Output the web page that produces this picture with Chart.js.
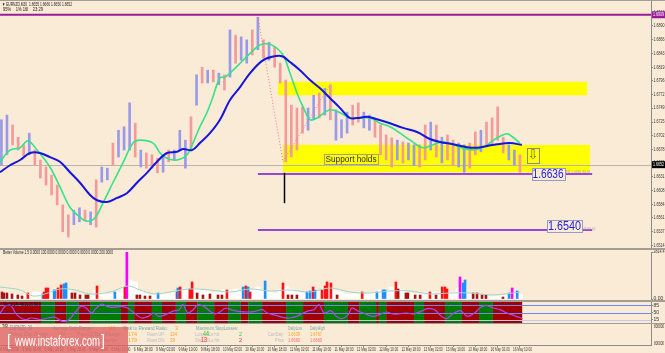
<!DOCTYPE html>
<html>
<head>
<meta charset="utf-8">
<title>EURNZD M30</title>
<script src="https://cdn.jsdelivr.net/npm/chart.js@4.4.1/dist/chart.umd.min.js"></script>
<style>
  html, body { margin: 0; padding: 0; }
  body { width: 665px; height: 353px; overflow: hidden; position: relative; background: #faebd7; font-family: "Liberation Sans", Arial, sans-serif; }
  canvas { position: absolute; left: 0; }
  .t { position: absolute; white-space: nowrap; line-height: 1; transform-origin: 0 0; }
  .sep { position: absolute; left: 0; width: 665px; background: #a39d95; }
  #wm { position: absolute; left: 0; top: 327px; width: 128px; height: 26px; background: rgba(223, 100, 100, 0.8); }
</style>
</head>
<body>
<canvas id="priceChart" width="665" height="249" style="top:0"></canvas>
<canvas id="volumeChart" width="665" height="51" style="top:250px"></canvas>
<canvas id="oscChart" width="665" height="21" style="top:302px"></canvas>
<canvas id="timeChart" width="665" height="29" style="top:324px"></canvas>
<div class="sep" style="top:0;height:1px"></div>
<div class="sep" style="top:248px;height:2px"></div>
<div class="sep" style="top:300px;height:2px"></div>
<div class="sep" style="top:323px;height:1px"></div>

<!-- header -->
<div class="t" style="left:2px;top:2px;font-size:5px;color:#222" data-w="70">▼ EURNZD,M30&nbsp; 1.6655 1.6666 1.6650 1.6652</div>
<div class="t" style="left:3px;top:7px;font-size:5px;color:#222" data-w="40">95%&nbsp;&nbsp;&nbsp; 1% 16l&nbsp;&nbsp;&nbsp; 23:29</div>
<div class="t" style="left:3px;top:251px;font-size:4.5px;color:#222" data-w="110">Better Volume 1.5 0.0000 100.0000 0.0000 0.0000 0.0000 0.0000 200.0000</div>
<div class="t" style="left:3px;top:303px;font-size:4.5px;color:#111" data-w="38">Trend(14) 48.2135 50.0</div>

<!-- info panel -->
<div class="t" style="left:2px;top:325px;font-size:4.5px;color:#222" data-w="6">T/R</div>
<div class="t" style="left:10px;top:324px;font-size:8px;color:#3d8fc0" data-w="22">EURNZD_30</div>
<div class="t" style="left:53px;top:325px;font-size:6px;color:#79a9a2" data-w="39">Average Daily Range:</div>
<div class="t" style="left:108px;top:325px;font-size:6px;color:#ff9f1c" data-w="7">146</div>
<div class="t" style="left:123px;top:325px;font-size:6px;color:#79a9a2" data-w="45">Risk to Reward Ratio:</div>
<div class="t" style="left:175px;top:325px;font-size:6px;color:#ff9f1c" data-w="3">3</div>
<div class="t" style="left:196px;top:325px;font-size:6px;color:#79a9a2" data-w="42">Maximum StopLosses:</div>
<div class="t" style="left:288px;top:325px;font-size:6px;color:#79a9a2" data-w="14">DailyLow</div>
<div class="t" style="left:310px;top:325px;font-size:6px;color:#79a9a2" data-w="15">DailyHigh</div>

<div class="t" style="left:10px;top:331px;font-size:6px;color:#9aaaaa" data-w="38">Prev1 Day Range</div>
<div class="t" style="left:59px;top:331px;font-size:6px;color:#ff9f1c" data-w="6">90</div>
<div class="t" style="left:77px;top:331px;font-size:6px;color:#9aaaaa" data-w="43">Prev10 Day Range</div>
<div class="t" style="left:128px;top:331px;font-size:6px;color:#ff9f1c" data-w="9">174</div>
<div class="t" style="left:147px;top:331px;font-size:6px;color:#b4bcbc" data-w="18">Room UP:</div>
<div class="t" style="left:170px;top:331px;font-size:6px;color:#ff9f1c" data-w="7">134</div>
<div class="t" style="left:195px;top:331px;font-size:6px;color:#b4bcbc" data-w="25">Long SLs hit:</div>
<div class="t" style="left:203px;top:330px;font-size:7px;color:#33cc33" data-w="6">44</div>
<div class="t" style="left:239px;top:331px;font-size:6px;color:#33cc33" data-w="3">2</div>
<div class="t" style="left:268px;top:331px;font-size:6px;color:#b4bcbc" data-w="15">CurrDay</div>
<div class="t" style="left:288px;top:331px;font-size:6px;color:#ff9f1c" data-w="12">1.6639</div>
<div class="t" style="left:310px;top:331px;font-size:6px;color:#ff9f1c" data-w="12">1.6767</div>

<div class="t" style="left:77px;top:337px;font-size:6px;color:#9aaaaa" data-w="40">Prev5 Day Range</div>
<div class="t" style="left:128px;top:337px;font-size:6px;color:#ff9f1c" data-w="9">179</div>
<div class="t" style="left:147px;top:337px;font-size:6px;color:#b4bcbc" data-w="18">Room DN:</div>
<div class="t" style="left:170px;top:337px;font-size:6px;color:#ff9f1c" data-w="5">39</div>
<div class="t" style="left:195px;top:337px;font-size:6px;color:#b4bcbc" data-w="25">Short SLs hit:</div>
<div class="t" style="left:201px;top:336px;font-size:7px;color:#ff2020" data-w="6">13</div>
<div class="t" style="left:239px;top:337px;font-size:6px;color:#ff2020" data-w="3">2</div>
<div class="t" style="left:275px;top:337px;font-size:6px;color:#b4bcbc" data-w="9">Price</div>
<div class="t" style="left:288px;top:337px;font-size:6px;color:#ff6a6a" data-w="12">1.6660</div>
<div class="t" style="left:310px;top:337px;font-size:6px;color:#ff6a6a" data-w="12">1.6660</div>

<div class="t" style="left:654px;top:325px;font-size:4.5px;color:#333" data-w="10">800000</div>
<div class="t" style="left:654px;top:342px;font-size:4.5px;color:#333" data-w="10">800000</div>

<div id="wm">
  <div class="t" style="left:7px;top:5px;font-size:17px;color:#fff" data-w="4">[</div>
  <div class="t" style="left:15px;top:7px;font-size:14.5px;color:#fff" data-w="85">www.instaforex.com</div>
  <div class="t" style="left:101px;top:5px;font-size:17px;color:#fff" data-w="4">]</div>
</div>

<script>
// ---- time axis: trading hours since 4 May 18:00 ----
const xMin = -2.5;
const xMax = 231.0;
const timeTicks = [0, 8, 16, 24, 32, 40, 48, 56, 64, 72, 80, 88, 96, 104, 112, 120, 128, 136, 144, 152, 160, 168, 176, 184];
const timeLabels = ['4 May 2016', '5 May 02:00', '5 May 10:00', '5 May 18:00', '6 May 02:00', '6 May 10:00',
  '6 May 18:00', '9 May 02:00', '9 May 10:00', '9 May 18:00', '10 May 02:00', '10 May 10:00',
  '10 May 18:00', '11 May 02:00', '11 May 10:00', '11 May 18:00', '12 May 02:00', '12 May 10:00',
  '12 May 18:00', '13 May 02:00', '13 May 10:00', '13 May 18:00', '16 May 02:00', '16 May 10:00'];

// ---- price bars (2 hour steps) ----
const barTimes = [-2, 0, 2, 4, 6, 8, 10, 12, 14, 16, 18, 20, 22, 24, 26, 28, 30, 32, 34, 36, 38, 40, 42, 44,
  46, 48, 50, 52, 54, 56, 58, 60, 62, 64, 66, 68, 70, 72, 74, 76, 78, 80, 82, 84, 86, 88, 90, 92, 94, 96,
  98, 100, 102, 104, 106, 108, 110, 112, 114, 116, 118, 120, 122, 124, 126, 128, 130, 132, 134, 136, 138,
  140, 142, 144, 146, 148, 150, 152, 154, 156, 158, 160, 162, 164, 166, 168, 170, 172, 174, 176, 178, 180, 182, 184];
const barHigh = [1.6729, 1.6737, 1.6720, 1.6699, 1.6686, 1.6706, 1.6677, 1.6660, 1.6648, 1.6634,
  1.6617, 1.6583, 1.6566, 1.6574, 1.6578, 1.6574, 1.6571, 1.6626, 1.6648, 1.6646,
  1.6689, 1.6711, 1.6717, 1.6758, 1.6723, 1.6677, 1.6672, 1.6669, 1.6663, 1.6665,
  1.6677, 1.6677, 1.6711, 1.6694, 1.6734, 1.6806, 1.6819, 1.6814, 1.6814, 1.6809,
  1.6806, 1.6883, 1.6874, 1.6871, 1.6866, 1.6883, 1.6905, 1.6866, 1.6862, 1.6854,
  1.6826, 1.6797, 1.6754, 1.6749, 1.6751, 1.6749, 1.6771, 1.6775, 1.6783, 1.6789,
  1.6746, 1.6729, 1.6742, 1.6754, 1.6758, 1.6742, 1.6737, 1.6732, 1.6720, 1.6703,
  1.6698, 1.6694, 1.6691, 1.6689, 1.6686, 1.6686, 1.6720, 1.6725, 1.6720, 1.6699,
  1.6703, 1.6694, 1.6689, 1.6686, 1.6689, 1.6708, 1.6711, 1.6725, 1.6732, 1.6751,
  1.6699, 1.6686, 1.6677, 1.6669];
const barLow = [1.6651, 1.6669, 1.6686, 1.6677, 1.6667, 1.6669, 1.6651, 1.6629, 1.6617, 1.6600,
  1.6583, 1.6537, 1.6528, 1.6549, 1.6554, 1.6557, 1.6549, 1.6545, 1.6622, 1.6626,
  1.6651, 1.6665, 1.6677, 1.6677, 1.6665, 1.6648, 1.6646, 1.6646, 1.6638, 1.6639,
  1.6657, 1.6660, 1.6677, 1.6646, 1.6677, 1.6754, 1.6792, 1.6792, 1.6794, 1.6789,
  1.6780, 1.6802, 1.6826, 1.6831, 1.6826, 1.6840, 1.6849, 1.6835, 1.6831, 1.6819,
  1.6792, 1.6657, 1.6665, 1.6677, 1.6706, 1.6711, 1.6729, 1.6732, 1.6737, 1.6729,
  1.6694, 1.6698, 1.6706, 1.6720, 1.6725, 1.6715, 1.6711, 1.6699, 1.6669, 1.6660,
  1.6648, 1.6660, 1.6655, 1.6660, 1.6651, 1.6648, 1.6660, 1.6677, 1.6665, 1.6655,
  1.6660, 1.6651, 1.6648, 1.6639, 1.6646, 1.6669, 1.6674, 1.6682, 1.6686, 1.6694,
  1.6672, 1.6660, 1.6651, 1.6639];
const barDir = ('uuddduddddddduududuudu' + 'uududdduduuududududud' + 'uudududddddduududuuuddu' +
  'udddduduuddududduuddudddduuduuudddd').split('');

// ---- moving averages ----
const fastMaX = [-2.5, 1.1, 4.7, 7.5, 10.8, 15.4, 19.0, 22.6, 26.2, 28.7, 31.6, 34.4, 38.0, 41.6, 45.2, 47.7,
  52.4, 54.9, 57.4, 61.0, 64.6, 66.7, 69.2, 71.7, 73.5, 76.4, 78.2, 81.1, 84.7, 89.7, 91.8, 95.1, 99.0,
  101.5, 104.0, 106.2, 108.7, 111.2, 115.9, 119.5, 123.0, 130.2, 133.8, 137.4, 141.0, 144.6, 149.2,
  152.8, 156.4, 162.5, 167.2, 170.8, 175.8, 179.4, 181.5, 184.0];
const fastMaY = [1.6657, 1.6677, 1.6681, 1.6693, 1.6677, 1.6648, 1.6614, 1.6579, 1.6562, 1.6555, 1.6561,
  1.6586, 1.6621, 1.6655, 1.6689, 1.6694, 1.6689, 1.6672, 1.6663, 1.6660, 1.6669, 1.6689, 1.6717, 1.6741,
  1.6763, 1.6801, 1.6802, 1.6814, 1.6831, 1.6854, 1.6859, 1.6857, 1.6840, 1.6809, 1.6775, 1.6751, 1.6729,
  1.6732, 1.6746, 1.6741, 1.6732, 1.6732, 1.6723, 1.6717, 1.6706, 1.6694, 1.6681, 1.6686, 1.6691, 1.6682,
  1.6677, 1.6682, 1.6698, 1.6705, 1.6699, 1.6689];
const slowMaX = [-2.5, 1.1, 4.7, 8.3, 11.8, 15.4, 19.0, 22.6, 26.2, 29.8, 32.3, 35.9, 39.5, 43.0, 46.6, 50.2,
  53.8, 57.4, 61.0, 63.1, 66.4, 69.2, 72.8, 76.4, 80.0, 83.6, 87.2, 91.5, 95.1, 98.7, 101.5, 105.1, 108.7,
  112.3, 115.9, 119.5, 123.0, 125.6, 129.2, 132.7, 137.4, 142.1, 147.1, 151.7, 155.3, 160.0, 165.0, 168.6,
  172.2, 175.8, 180.4, 184.7];
const slowMaY = [1.6639, 1.6651, 1.6660, 1.6672, 1.6672, 1.6665, 1.6657, 1.6639, 1.6621, 1.6600, 1.6591,
  1.6588, 1.6595, 1.6603, 1.6621, 1.6638, 1.6657, 1.6672, 1.6674, 1.6679, 1.6677, 1.6689, 1.6706, 1.6729,
  1.6763, 1.6785, 1.6809, 1.6830, 1.6837, 1.6838, 1.6828, 1.6814, 1.6797, 1.6783, 1.6766, 1.6749, 1.6732,
  1.6732, 1.6734, 1.6730, 1.6723, 1.6715, 1.6708, 1.6696, 1.6691, 1.6687, 1.6682, 1.6681, 1.6684, 1.6687,
  1.6689, 1.6686];

// ---- drawings on the price chart ----
const zoneStart = [97.2, 99.0];
const zoneEnd = [208.1, 209.1];
const zoneHigh = [1.6794, 1.6686];
const zoneLow = [1.6771, 1.6639];
const levelPrice = [1.6909, 1.6636, 1.6540];
const levelStart = [-2.5, 90.0, 90.0];
const levelEnd = [231.0, 209.9, 209.9];
const zigzagX = [90.0, 99.0, 115.9];
const zigzagY = [1.6905, 1.6657, 1.6789];
const bidPrice = 1.6652;
const markerTime = 99.4;
const markerFrom = 1.6638;
const markerTo = 1.6586;
const noteTime = 123.4;
const notePrice = 1.6662;
const noteText = 'Support holds';
const targetTimes = [194.1, 200.0];
const targetPrices = [1.6636, 1.6546];
const targetTexts = ['1.6636', '1.6540'];
const arrowTime = 188.7;
const arrowPrice = 1.6668;
const priceMin = 1.65091;
const priceMax = 1.69326;
const priceTicks = [1.6913, 1.6890, 1.6866, 1.6843, 1.6819, 1.6796, 1.6772, 1.6749, 1.6725,
  1.6702, 1.6678, 1.6655, 1.6631, 1.6608, 1.6584, 1.6561, 1.6537, 1.6514];

// ---- volume ----
const volMax = 2814.4;
const plainVolume = [360, 360, 300, 240, 240, 300, 420, 420, 480, 540, 600, 660, 600, 360, 300, 240, 240,
  540, 360, 300, 300, 420, 780, 1140, 1020, 480, 300, 240, 240, 300, 300, 420, 540, 600, 660, 600, 540,
  480, 360, 420, 540, 480, 600, 540, 660, 600, 720, 540, 420, 360, 540, 780, 600, 420, 360, 420, 540, 480,
  660, 720, 480, 420, 300, 300, 300, 300, 360, 420, 540, 480, 720, 840, 540, 360, 300, 300, 360, 420, 360,
  480, 360, 420, 660, 780, 360, 300, 240, 180, 180, 180, 240, 300, 360, 300];
const volTimes = [-1.8, -1.1, 0, 1.8, 3.9, 5.4, 7.5, 12.9, 13.3, 14.0, 14.7, 16.9, 17.2, 18.3, 19.4, 20.4,
  21.2, 23.3, 24.4, 26.2, 28.3, 29.1, 32.3, 38.7, 42.3, 43.0, 46.6, 47.7, 49.5, 51.3, 54.2, 61.0, 61.3,
  62.1, 65.6, 66.4, 68.2, 70.3, 72.8, 75.7, 77.1, 78.9, 84.7, 85.7, 86.5, 87.2, 92.6, 99.0, 100.8, 102.2,
  104.0, 107.6, 108.7, 109.8, 110.5, 113.0, 114.1, 114.8, 116.2, 118.4, 127.4, 132.7, 134.9, 135.6, 139.5,
  140.3, 143.1, 143.8, 146.4, 148.2, 151.7, 153.9, 156.1, 157.1, 157.8, 162.5, 163.6, 164.3, 167.2, 168.6,
  170.4, 171.8, 177.9, 180.1, 181.2, 183.0];
const volValues = [420, 360, 360, 300, 240, 180, 360, 300, 420, 660, 660, 540, 540, 660, 840, 900, 960,
  360, 360, 240, 240, 240, 780, 420, 720, 2814, 240, 240, 180, 180, 360, 420, 660, 720, 600, 1020, 360,
  240, 300, 240, 240, 540, 720, 780, 720, 420, 1080, 960, 240, 240, 240, 420, 480, 720, 540, 540, 780,
  1020, 960, 240, 420, 420, 540, 540, 1020, 600, 360, 360, 240, 240, 420, 240, 720, 720, 600, 1320, 960,
  1140, 360, 360, 240, 240, 120, 360, 660, 480];
const volKinds = ['k', 'k', 'k', 'k', 'k', 'k', 'r', 'b', 'r', 'r', 'r', 'b', 'b', 'r', 'r', 'b', 'b',
  'k', 'k', 'k', 'k', 'k', 'r', 'b', 'r', 'm', 'k', 'k', 'k', 'k', 'b', 'r', 'b', 'r', 'r', 'r', 'k',
  'k', 'k', 'k', 'k', 'r', 'b', 'r', 'b', 'r', 'b', 'r', 'k', 'k', 'k', 'b', 'b', 'r', 'b', 'r', 'r',
  'r', 'r', 'k', 'r', 'b', 'b', 'b', 'r', 'k', 'k', 'k', 'k', 'k', 'r', 'k', 'r', 'r', 'r', 'm', 'b',
  'b', 'k', 'k', 'k', 'k', 'k', 'b', 'm', 'b'];
const volAvgX = [-2.5, 4.7, 9.3, 13.6, 19.0, 24.4, 29.8, 37.0, 43.4, 47.7, 53.1, 58.5, 65.6, 72.8, 80.0,
  87.2, 94.3, 101.5, 108.7, 115.9, 123.0, 130.2, 137.4, 144.6, 151.7, 158.9, 166.1, 173.3, 178.7, 184.0];
const volAvgY = [720, 540, 180, 300, 600, 540, 300, 420, 780, 540, 300, 420, 600, 540, 420, 600, 480,
  540, 420, 660, 420, 360, 480, 480, 300, 360, 360, 240, 300, 420];

// ---- oscillator ----
const oscX = [-2.5, -0.6, 1.2, 3.0, 4.9, 6.8, 8.6, 10.5, 12.3, 14.8, 17.3, 19.8, 22.2, 24.7, 26.6, 28.4,
  30.3, 32.1, 34.0, 35.8, 38.3, 40.8, 43.3, 45.7, 48.2, 50.7, 52.5, 54.4, 56.9, 59.3, 61.8, 63.1, 64.9,
  66.8, 68.6, 70.5, 72.9, 74.8, 76.7, 78.5, 80.4, 82.8, 86.6, 89.0, 91.5, 93.4, 96.5, 98.9, 101.4, 103.9,
  106.3, 108.2, 110.1, 111.9, 113.8, 116.2, 118.1, 120.0, 122.4, 123.7, 126.1, 128.6, 131.1, 133.6, 136.0,
  138.5, 141.0, 143.5, 145.9, 148.4, 150.9, 153.4, 155.8, 157.7, 159.5, 162.6, 165.1, 167.6, 170.0, 171.9,
  174.4, 176.9, 179.3, 181.8, 184.9];
const oscY = [47.6, 79.4, 87.3, 47.6, 23.8, 15.9, 23.8, 20.6, 15.9, 23.8, 27.0, 7.9, 15.9, 55.6, 79.4,
  71.4, 47.6, 71.4, 90.5, 79.4, 74.6, 79.4, 71.4, 47.6, 23.8, 31.7, 47.6, 31.7, 39.7, 55.6, 63.5, 87.3,
  47.6, 63.5, 87.3, 79.4, 55.6, 42.9, 55.6, 71.4, 63.5, 55.6, 52.4, 55.6, 63.5, 47.6, 36.5, 27.0, 23.8,
  31.7, 47.6, 58.7, 63.5, 87.3, 47.6, 58.7, 31.7, 20.6, 39.7, 71.4, 55.6, 42.9, 31.7, 39.7, 52.4, 42.9,
  44.4, 47.6, 42.9, 55.6, 68.3, 63.5, 31.7, 20.6, 39.7, 58.7, 31.7, 47.6, 74.6, 84.1, 71.4, 63.5, 47.6,
  36.5, 20.6];
const oscLevels = [85, 50, 15];
const stripeEdges = [-2.5, 12.2, 17.2, 21.2, 25.8, 29.8, 40.9, 43.4, 45.6, 52.0, 55.6, 60.6, 64.2, 68.2,
  74.3, 79.3, 83.9, 86.5, 91.5, 100.1, 106.2, 113.7, 122.3, 126.3, 132.4, 133.4, 136.0, 146.0, 149.6,
  157.1, 163.2, 169.3, 174.3, 184.8];
const stripeKinds = ['r', 'g', 'r', 'g', 'r', 'g', 'r', 'g', 'r', 'g', 'r', 'g', 'r', 'g', 'r', 'g', 'r',
  'g', 'r', 'g', 'r', 'g', 'r', 'g', 'r', 'g', 'r', 'g', 'r', 'g', 'r', 'g', 'r'];

// ---------------------------------------------------------------
Chart.defaults.font.family = '"Liberation Sans", Arial, sans-serif';
const FONT = '"Liberation Sans", Arial, sans-serif';
const VOL_COLORS = { k: '#a31414', r: '#ff1212', b: '#1e8fff', m: '#ff00ff' };

// fit the html labels to the squeezed widths of the screenshot
document.querySelectorAll('[data-w]').forEach(el => {
  const w = el.getBoundingClientRect().width;
  el.style.transform = 'scaleX(' + (+el.dataset.w / w).toFixed(3) + ')';
});

function baseX() {
  return { type: 'linear', min: xMin, max: xMax, offset: false, display: false };
}

function rightAxis(min, max, ticks) {
  return {
    position: 'right', min, max,
    afterFit: s => { s.width = 14; },
    afterBuildTicks: s => { s.ticks = ticks.map(v => ({ value: v })); },
    ticks: { display: false },
    grid: { drawOnChartArea: false, tickLength: 2, color: '#8a8a8a' },
    border: { color: '#8a8a8a' }
  };
}

function axisLabels(chart, values, fmt) {
  const { ctx, chartArea: a, scales: { y } } = chart;
  ctx.save();
  ctx.font = '5px ' + FONT;
  ctx.fillStyle = '#333';
  ctx.textBaseline = 'middle';
  ctx.textAlign = 'left';
  values.forEach(v => ctx.fillText(fmt(v), a.right + 2.5, y.getPixelForValue(v), 11));
  ctx.restore();
}

function boxText(ctx, cx, cy, text, o) {
  const x0 = Math.round(cx - o.w / 2) + 0.5;
  const y0 = Math.round(cy - o.h / 2) + 0.5;
  if (o.fill) { ctx.fillStyle = o.fill; ctx.fillRect(x0, y0, o.w, o.h); }
  ctx.strokeStyle = o.border;
  ctx.lineWidth = 1;
  ctx.strokeRect(x0, y0, o.w, o.h);
  ctx.font = o.font;
  ctx.fillStyle = o.color;
  ctx.textAlign = 'center';
  ctx.textBaseline = 'middle';
  ctx.fillText(text, cx, cy + 0.5, o.tw);
}

function axisBox(chart, v, text, bg) {
  const { ctx, chartArea: a, scales: { y } } = chart;
  const yy = y.getPixelForValue(v);
  ctx.save();
  ctx.fillStyle = bg;
  ctx.fillRect(a.right + 1, yy - 3.5, 13, 7);
  ctx.fillStyle = '#fff';
  ctx.font = '5px ' + FONT;
  ctx.textBaseline = 'middle';
  ctx.textAlign = 'left';
  ctx.fillText(text, a.right + 2, yy, 11);
  ctx.restore();
}

// price chart drawings
const priceDrawings = {
  id: 'priceDrawings',
  beforeDatasetsDraw(chart) {
    const { ctx, chartArea: a, scales: { x, y } } = chart;
    ctx.save();
    ctx.fillStyle = '#ffff00';
    zoneStart.forEach((s, i) => {
      const x0 = x.getPixelForValue(s), x1 = x.getPixelForValue(zoneEnd[i]);
      const y0 = y.getPixelForValue(zoneHigh[i]), y1 = y.getPixelForValue(zoneLow[i]);
      ctx.fillRect(x0, y0, x1 - x0, y1 - y0);
    });
    const by = Math.round(y.getPixelForValue(bidPrice)) + 0.5;
    ctx.strokeStyle = '#bcb5ac';
    ctx.lineWidth = 1;
    ctx.beginPath(); ctx.moveTo(a.left, by); ctx.lineTo(a.right, by); ctx.stroke();
    ctx.restore();
  },
  afterDatasetsDraw(chart) {
    const { ctx, scales: { x, y } } = chart;
    ctx.save();
    levelPrice.forEach((v, i) => {
      const yy = y.getPixelForValue(v);
      ctx.strokeStyle = i === 0 ? '#981c98' : '#9c46d6';
      ctx.lineWidth = 2;
      ctx.beginPath();
      ctx.moveTo(x.getPixelForValue(levelStart[i]), yy);
      ctx.lineTo(x.getPixelForValue(levelEnd[i]), yy);
      ctx.stroke();
    });
    // vertical marker under the low
    const mx = Math.round(x.getPixelForValue(markerTime)) + 0.5;
    ctx.strokeStyle = '#000';
    ctx.lineWidth = 1.5;
    ctx.beginPath();
    ctx.moveTo(mx, y.getPixelForValue(markerFrom));
    ctx.lineTo(mx, y.getPixelForValue(markerTo));
    ctx.stroke();

    boxText(ctx, x.getPixelForValue(noteTime), y.getPixelForValue(notePrice), noteText,
      { w: 54, h: 10, tw: 51, font: '9px ' + FONT, color: '#2b2b2b', border: '#a8a27a' });
    targetTimes.forEach((t, i) => {
      const cx = x.getPixelForValue(t), cy = y.getPixelForValue(targetPrices[i]);
      boxText(ctx, cx, cy, targetTexts[i],
        { w: 33 + i * 2, h: 12, tw: 31 + i * 2, font: '12px ' + FONT, color: '#2222dd', border: '#9a9ac0', fill: '#faebd7' });
      ctx.font = '4px ' + FONT;
      ctx.fillStyle = '#ad9abb';
      ctx.textAlign = 'left';
      ctx.fillText(i === 0 ? 'FR 1.6636 (61.8)' : '(100.0)', cx + 18 + i, cy - 2 + i * 4, 24 - i * 12);
    });
    boxText(ctx, x.getPixelForValue(arrowTime), y.getPixelForValue(arrowPrice), '⇩',
      { w: 12, h: 15, tw: 11, font: '13px "DejaVu Sans"', color: '#6a6a60', border: '#8c8c7c' });
    ctx.restore();
  },
  afterDraw(chart) {
    axisLabels(chart, priceTicks, v => v.toFixed(4));
    axisBox(chart, levelPrice[0], levelPrice[0].toFixed(4), '#981c98');
    axisBox(chart, bidPrice, bidPrice.toFixed(4), '#000');
  }
};

new Chart(document.getElementById('priceChart'), {
  type: 'line',
  data: {
    datasets: [
      { type: 'line', data: slowMaX.map((t, i) => ({ x: t, y: slowMaY[i] })), borderColor: '#1515dc',
        borderWidth: 2, pointRadius: 0, tension: 0.35, order: 0 },
      { type: 'line', data: fastMaX.map((t, i) => ({ x: t, y: fastMaY[i] })), borderColor: '#34e287',
        borderWidth: 1.6, pointRadius: 0, tension: 0.35, order: 1 },
      { type: 'line', data: zigzagX.map((t, i) => ({ x: t, y: zigzagY[i] })), borderColor: '#f07a7a',
        borderWidth: 1, borderDash: [1, 2], pointRadius: 0, tension: 0, order: 2 },
      { type: 'bar', data: barTimes.map((t, i) => ({ x: t, y: [barLow[i], barHigh[i]] })),
        backgroundColor: barDir.map(d => d === 'u' ? '#9a9aea' : '#f39a9a'),
        barThickness: 2, grouped: false, order: 3 }
    ]
  },
  options: {
    responsive: false, animation: false, events: [],
    layout: { padding: { top: 1, bottom: 1, left: 0, right: 0 } },
    plugins: { legend: { display: false }, tooltip: { enabled: false } },
    scales: { x: baseX(), y: rightAxis(priceMin, priceMax, priceTicks) }
  },
  plugins: [priceDrawings]
});

// volume panel
new Chart(document.getElementById('volumeChart'), {
  type: 'bar',
  data: {
    datasets: [
      { type: 'line', data: volAvgX.map((t, i) => ({ x: t, y: volAvgY[i] })), borderColor: '#9fd5c5',
        borderWidth: 1, pointRadius: 0, tension: 0.35, order: 0 },
      { type: 'bar', data: volTimes.map((t, i) => ({ x: t, y: volValues[i] })),
        backgroundColor: volKinds.map(k => VOL_COLORS[k]), barThickness: 2, grouped: false, order: 1 },
      { type: 'bar', data: barTimes.map((t, i) => ({ x: t, y: plainVolume[i] })),
        backgroundColor: '#ffffff', barThickness: 5, grouped: false, order: 2 }
    ]
  },
  options: {
    responsive: false, animation: false, events: [],
    layout: { padding: { top: 2, bottom: 2 } },
    plugins: { legend: { display: false }, tooltip: { enabled: false } },
    scales: { x: baseX(), y: rightAxis(0, volMax, [0, volMax]) }
  },
  plugins: [{ id: 'volLabels', afterDraw: c => axisLabels(c, [0, volMax], v => v ? v.toFixed(1) : '0.00') }]
});

// oscillator panel
const oscBack = {
  id: 'oscBack',
  beforeDatasetsDraw(chart) {
    const { ctx, chartArea: a, scales: { x, y } } = chart;
    ctx.save();
    stripeKinds.forEach((k, i) => {
      const x0 = x.getPixelForValue(stripeEdges[i]), x1 = x.getPixelForValue(stripeEdges[i + 1]);
      ctx.fillStyle = k === 'r' ? '#a00000' : '#007a00';
      ctx.fillRect(x0, a.top, x1 - x0, a.bottom - a.top);
    });
    oscLevels.forEach((v, i) => {
      const yy = Math.round(y.getPixelForValue(v)) + 0.5;
      ctx.strokeStyle = i === 2 ? '#c4c8ee' : '#6f88f5';
      ctx.lineWidth = 1;
      ctx.beginPath(); ctx.moveTo(a.left, yy); ctx.lineTo(a.right, yy); ctx.stroke();
    });
    ctx.restore();
  },
  afterDraw: c => axisLabels(c, oscLevels, v => String(v))
};

new Chart(document.getElementById('oscChart'), {
  type: 'line',
  data: {
    datasets: [
      { data: oscX.map((t, i) => ({ x: t, y: oscY[i] })), borderColor: '#a64af0', borderWidth: 1.2,
        pointRadius: 0, tension: 0.35 }
    ]
  },
  options: {
    responsive: false, animation: false, events: [],
    layout: { padding: 0 },
    plugins: { legend: { display: false }, tooltip: { enabled: false } },
    scales: { x: baseX(), y: rightAxis(0, 100, oscLevels) }
  },
  plugins: [oscBack]
});

// time axis under the info panel
new Chart(document.getElementById('timeChart'), {
  type: 'line',
  data: { datasets: [] },
  options: {
    responsive: false, animation: false, events: [],
    layout: { padding: { right: 14 } },
    plugins: { legend: { display: false }, tooltip: { enabled: false } },
    scales: {
      x: {
        type: 'linear', min: xMin, max: xMax, offset: false, position: 'bottom',
        afterFit: s => { s.height = 8; },
        afterBuildTicks: s => { s.ticks = timeTicks.map(v => ({ value: v })); },
        ticks: { display: false },
        grid: { drawOnChartArea: false, tickLength: 2, color: '#8a8a8a' },
        border: { color: '#8a8a8a' }
      },
      y: { display: false, min: 0, max: 1 }
    }
  },
  plugins: [{
    id: 'timeLabels',
    afterDraw(chart) {
      const { ctx, chartArea: a, scales: { x } } = chart;
      ctx.save();
      ctx.strokeStyle = '#8a8a8a';
      ctx.beginPath(); ctx.moveTo(a.right + 0.5, a.top); ctx.lineTo(a.right + 0.5, a.bottom); ctx.stroke();
      ctx.font = '5px ' + FONT;
      ctx.fillStyle = '#3a3a3a';
      ctx.textAlign = 'center';
      ctx.textBaseline = 'middle';
      timeTicks.forEach((t, i) => ctx.fillText(timeLabels[i], x.getPixelForValue(t) + 2.5, a.bottom + 4.5, 19));
      ctx.restore();
    }
  }]
});
</script>
</body>
</html>
